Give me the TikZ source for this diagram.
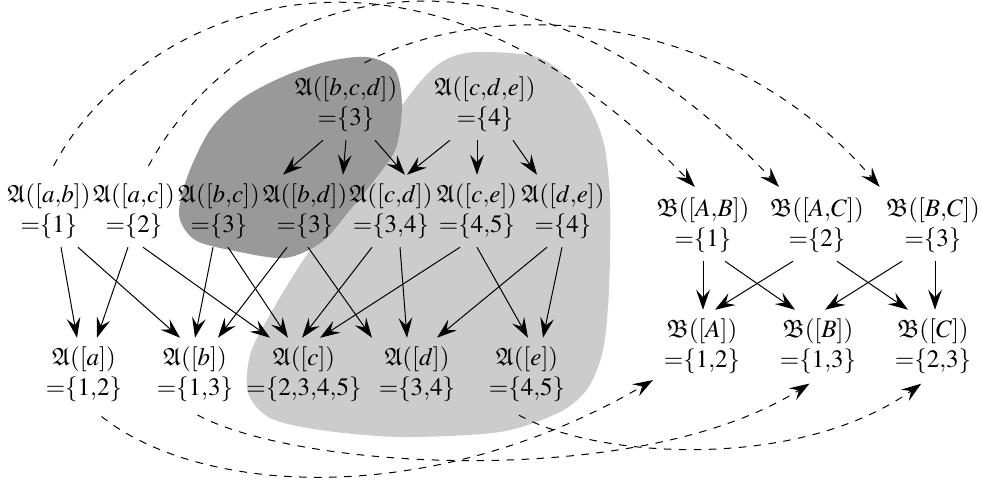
\documentclass[tikz,border=0pt]{standalone}
\usepackage{amssymb}
\usepackage{mathptmx}
\usetikzlibrary{arrows.meta,calc}
\newcommand{\setA}[2]{$\mathfrak{A}([#1])$\\${=}\{#2\}$}
\newcommand{\setB}[2]{$\mathfrak{B}([#1])$\\${=}\{#2\}$}
\tikzset{
  set/.style={align=center,inner sep=3.3pt},
  arr/.style={-{Stealth[length=8pt,width=5.5pt,inset=3pt]},thin},
  map/.style={arr,dashed,shorten <=4pt,shorten >=1pt},
  darkblob/.style={fill=black!40},
  lightblob/.style={fill=black!20}
}
\begin{document}
\begin{tikzpicture}[x=0.4pt,y=-0.4pt]
 \useasboundingbox (0,0) rectangle (982,485);
 % shaded regions
 \fill[lightblob] plot[smooth cycle] coordinates {(477,52) (540,58) (580,92) (603,140) (610,200) (609,290) (603,350) (588,388) (560,412) (500,432) (400,437) (320,430) (270,418) (248,393) (250,355) (268,318) (300,265) (345,200) (385,130) (420,82) (445,60)};
 \fill[darkblob] plot[smooth cycle] coordinates {(367,57) (395,70) (402,105) (396,148) (376,178) (350,210) (322,242) (285,258) (235,251) (195,240) (179,215) (188,175) (210,130) (240,100) (280,78) (325,62)};
 % left lattice
 \node[set] (bcd) at (346,104) {\setA{b{,}c{,}d}{3}};
 \node[set] (cde) at (485,104) {\setA{c{,}d{,}e}{4}};
 \node[set] (ab) at (49,211) {\setA{a{,}b}{1}};
 \node[set] (ac) at (134,211) {\setA{a{,}c}{2}};
 \node[set] (bc) at (219,211) {\setA{b{,}c}{3}};
 \node[set] (bd) at (305,211) {\setA{b{,}d}{3}};
 \node[set] (cd) at (391,211) {\setA{c{,}d}{3{,}4}};
 \node[set] (ce) at (477,211) {\setA{c{,}e}{4{,}5}};
 \node[set] (de) at (563,211) {\setA{d{,}e}{4}};
 \node[set] (a) at (84,374) {\setA{a}{1{,}2}};
 \node[set] (b) at (195,374) {\setA{b}{1{,}3}};
 \node[set] (c) at (304,374) {\setA{c}{2{,}3{,}4{,}5}};
 \node[set] (d) at (417,374) {\setA{d}{3{,}4}};
 \node[set] (e) at (527,374) {\setA{e}{4{,}5}};
 % right lattice
 \node[set] (AB) at (703,225) {\setB{A{,}B}{1}};
 \node[set] (AC) at (817,225) {\setB{A{,}C}{2}};
 \node[set] (BC) at (933,225) {\setB{B{,}C}{3}};
 \node[set] (A) at (702,346) {\setB{A}{1{,}2}};
 \node[set] (B) at (818,346) {\setB{B}{1{,}3}};
 \node[set] (C) at (933,346) {\setB{C}{2{,}3}};
 % inclusions
 \foreach \s/\ds/\t/\dt in {bcd/-23/bc/64, bcd/0/bd/38, bcd/29/cd/14, cde/-35/cd/16,
   cde/-8/ce/0, cde/28/de/-26, ab/12/a/-7, ab/29/b/-15, ac/-6/a/13, ac/9/c/-34,
   bc/-6/b/0, bc/9/c/-16, bd/-18/b/23, bd/3/d/-45, cd/-19/c/-2, cd/9/d/-10,
   ce/-17/c/16, ce/0/e/1, de/-16/d/20, de/-1/e/16, AB/0/A/1, AB/22/B/-23,
   AC/-24/A/13, AC/20/C/-25, BC/-31/B/7, BC/2/C/2}
   \draw[arr] ($(\s.south)+(\ds,0)$) -- ($(\t.north)+(\dt,0)$);
 % the map
 \draw[map] (ab.north) .. controls (130,20) and (400,-120) .. (AB.100);
 \draw[map] (ac.75) .. controls (250,-20) and (520,-90) .. (AC.135);
 \draw[map] (bcd.75) .. controls (480,0) and (720,0) .. (BC.145);
 \draw[map] (a.-75) .. controls (200,495) and (430,510) .. (A.-145);
 \draw[map] (b.-100) .. controls (300,470) and (640,490) .. (B.-100);
 \draw[map] (e.-115) .. controls (600,460) and (800,470) .. (C.-105);
\end{tikzpicture}
\end{document}
